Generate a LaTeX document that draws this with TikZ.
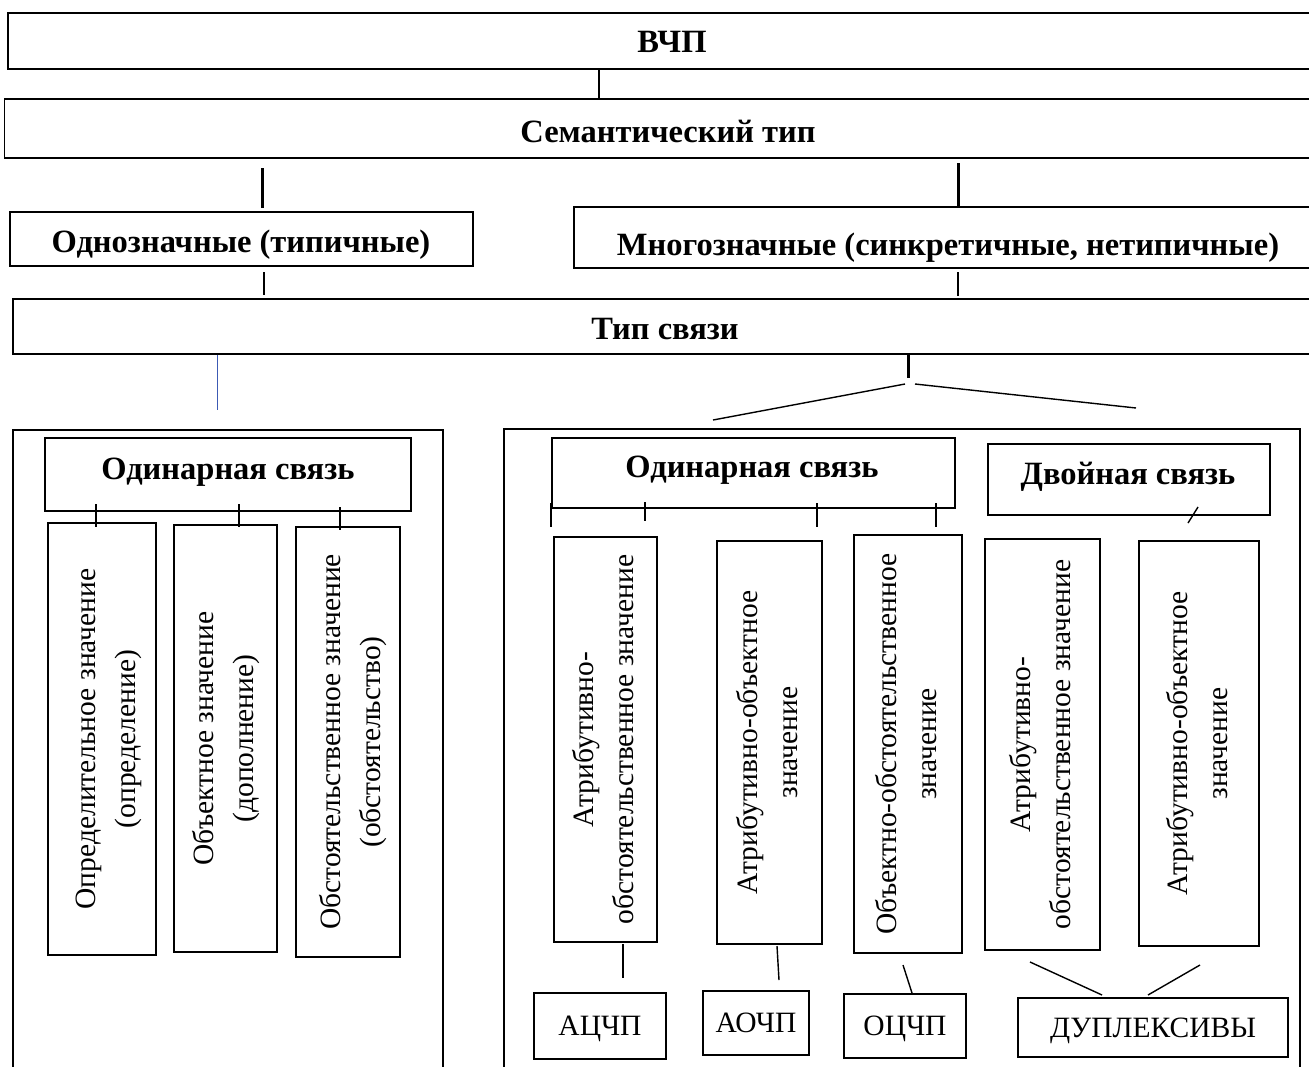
\documentclass[tikz,border=0pt]{standalone}
\usepackage{fontspec}
\setmainfont{Liberation Serif}
\usetikzlibrary{calc}
\begin{document}
\begin{tikzpicture}[x=1pt,y=-1pt,
  box/.style={draw, line width=1.5pt, inner sep=0pt, align=center},
  hd/.style={font=\fontsize{32.5}{38}\selectfont\bfseries, inner sep=0pt, text height=0.7em, text depth=0.2em, yshift=-7pt},
  vt/.style={font=\fontsize{29.5}{40}\selectfont},
  lab/.style={font=\fontsize{29.5}{34}\selectfont},
  ln/.style={line width=1.4pt},
  tk/.style={line width=3pt},
  bl/.style={line width=0.9pt, draw={rgb,255:red,60;green,90;blue,180}}]
\useasboundingbox (0,0) rectangle (1309,1066);

% top levels
\node[box,minimum width=1322,minimum height=56] (vchp) at (669,41) {};
\node[hd] (vchpt) at (672,43) {ВЧП};
\node[box,minimum width=1335,minimum height=59] (sem) at (672,128.5) {};
\node[hd] (semt) at (668,133) {Семантический тип};
\node[box,minimum width=463,minimum height=54] (odn) at (241.5,239) {};
\node[hd] (odnt) at (241,243) {Однозначные (типичные)};
\node[box,minimum width=746,minimum height=61] (mng) at (947,237.5) {};
\node[hd] (mngt) at (948,246) {Многозначные (синкретичные, нетипичные)};
\node[box,minimum width=1304,minimum height=55] (typ) at (665,326.5) {};
\node[hd] (typt) at (665,330) {Тип связи};

% big frames
\node[box,minimum width=430,minimum height=650] (lf) at (228,755) {};
\node[box,minimum width=796,minimum height=651] (rf) at (902,754.5) {};

% left frame content
\node[box,minimum width=366,minimum height=73] (lone) at (228,474.5) {};
\node[hd] (lonet) at (228,470) {Одинарная связь};
\node[box,vt,minimum width=108,minimum height=432] (l1) at (102,739)
  {\hspace*{10pt}\rotatebox{90}{\begin{tabular}{@{}c@{}}Определительное значение\\(определение)\end{tabular}}};
\node[box,vt,minimum width=103,minimum height=427] (l2) at (225.5,738.5)
  {\rotatebox{90}{\begin{tabular}{@{}c@{}}Объектное значение\\(дополнение)\end{tabular}}};
\node[box,vt,minimum width=104,minimum height=430] (l3) at (348,742)
  {\hspace*{8pt}\rotatebox{90}{\begin{tabular}{@{}c@{}}Обстоятельственное значение\\(обстоятельство)\end{tabular}}};

% right frame content
\node[box,minimum width=403,minimum height=70] (rone) at (753.5,473) {};
\node[hd] (ronet) at (752,468) {Одинарная связь};
\node[box,minimum width=282,minimum height=71] (rtwo) at (1129,479.5) {};
\node[hd] (rtwot) at (1128,475) {Двойная связь};
\node[box,vt,minimum width=103,minimum height=405] (ra) at (605.5,739.5)
  {\rotatebox{90}{\begin{tabular}{@{}c@{}}Атрибутивно-\\обстоятельственное значение\end{tabular}}};
\node[box,vt,minimum width=105,minimum height=403] (rb) at (769.5,742.5)
  {\rotatebox{90}{\begin{tabular}{@{}c@{}}Атрибутивно-объектное\\значение\end{tabular}}};
\node[box,vt,minimum width=108,minimum height=418] (rc) at (908,744)
  {\rotatebox{90}{\begin{tabular}{@{}c@{}}Объектно-обстоятельственное\\значение\end{tabular}}};
\node[box,vt,minimum width=115,minimum height=411] (rd) at (1042.5,744.5)
  {\rotatebox{90}{\begin{tabular}{@{}c@{}}Атрибутивно-\\обстоятельственное значение\end{tabular}}};
\node[box,vt,minimum width=120,minimum height=405] (re) at (1199,743.5)
  {\rotatebox{90}{\begin{tabular}{@{}c@{}}Атрибутивно-объектное\\значение\end{tabular}}};

% bottom labels
\node[box,lab,minimum width=132,minimum height=66,text depth=0pt] (acp) at (600,1026) {АЦЧП};
\node[box,lab,minimum width=106,minimum height=64,text depth=0pt] (aop) at (756,1023) {АОЧП};
\node[box,lab,minimum width=122,minimum height=64,text depth=0pt] (ocp) at (905,1026) {ОЦЧП};
\node[box,lab,minimum width=270,minimum height=59,text depth=0pt] (dup) at (1153,1027.5) {ДУПЛЕКСИВЫ};

% connector coordinates
\coordinate (a1) at (599,0);
\coordinate (t1a) at (262,168); \coordinate (t1b) at (262,208);
\coordinate (t2a) at (958,163); \coordinate (t2b) at (958,206);
\coordinate (s1a) at (264,272); \coordinate (s1b) at (264,295);
\coordinate (s2a) at (958,272); \coordinate (s2b) at (958,296);
\coordinate (blx) at (217,0); \coordinate (ble) at (217,410);
\coordinate (tk3) at (908,378);
\coordinate (dl0) at (905,384); \coordinate (dl1) at (713,420);
\coordinate (dr0) at (915,384); \coordinate (dr1) at (1136,408);

\draw[ln] (vchp.south -| a1) -- (sem.north -| a1);
\draw[tk] (t1a) -- (t1b);
\draw[tk] (t2a) -- (t2b);
\draw[ln] (s1a) -- (s1b);
\draw[ln] (s2a) -- (s2b);
\draw[bl] (typ.south -| blx) -- (ble);
\draw[tk] (typ.south -| tk3) -- (tk3);
\draw[ln] (dl0) -- (dl1);
\draw[ln] (dr0) -- (dr1);

% left ticks
\foreach \x/\ya/\yb [count=\i] in {96/504/527, 239/504/527, 340/507/530}{
  \coordinate (lta\i) at (\x,\ya); \coordinate (ltb\i) at (\x,\yb);
  \draw[ln] (lta\i) -- (ltb\i);}
% right ticks
\foreach \x/\ya/\yb [count=\i] in {551/503/527, 645/502/521, 817/503/527, 936/503/527}{
  \coordinate (rta\i) at (\x,\ya); \coordinate (rtb\i) at (\x,\yb);
  \draw[ln] (rta\i) -- (rtb\i);}
\coordinate (sl0) at (1198,507); \coordinate (sl1) at (1188,523);
\draw[ln] (sl0) -- (sl1);

% bottom connectors
\coordinate (b1a) at (623,944); \coordinate (b1b) at (623,978);
\coordinate (b2a) at (777,946); \coordinate (b2b) at (779,980);
\coordinate (b3a) at (903,965); \coordinate (b3b) at (912,993);
\coordinate (b4a) at (1030,962); \coordinate (b4b) at (1102,995);
\coordinate (b5a) at (1200,965); \coordinate (b5b) at (1148,995);
\draw[ln] (b1a) -- (b1b);
\draw[ln] (b2a) -- (b2b);
\draw[ln] (b3a) -- (b3b);
\draw[ln] (b4a) -- (b4b);
\draw[ln] (b5a) -- (b5b);
\end{tikzpicture}
\end{document}
